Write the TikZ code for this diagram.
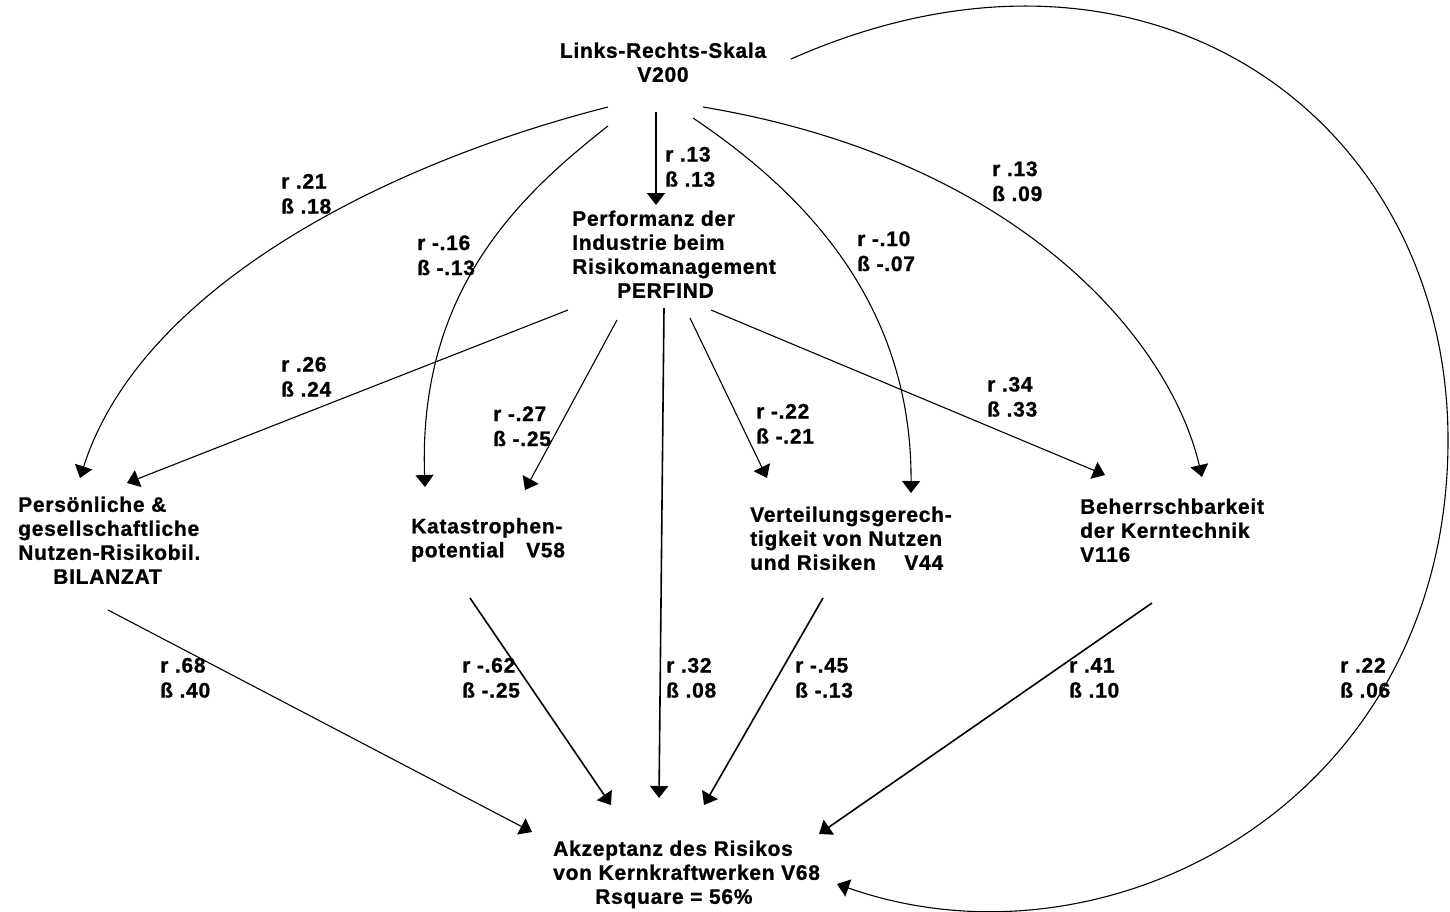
\documentclass[tikz,border=0pt]{standalone}
\usepackage{fontspec}
\setmainfont{Liberation Sans}[LetterSpace=3.5, BoldFeatures={FakeBold=1}]
\usetikzlibrary{arrows.meta}

\tikzset{
  vbox/.style={inner sep=0pt, font=\bfseries\fontsize{21}{24}\selectfont},
  coef/.style={inner sep=0pt, anchor=west, font=\bfseries\fontsize{21}{25}\selectfont},
  path/.style={line width=1.1pt, -{Triangle[length=12pt,width=18pt]}},
  heavy/.style={path, line width=1.6pt},
}
\newcommand{\rb}[2]{\begin{tabular}{@{}l@{}}#1\\#2\end{tabular}}

\begin{document}
\begin{tikzpicture}[x=1pt,y=-1pt]
\useasboundingbox (0,0) rectangle (1450,911);

% variables
\node[vbox] (v200) at (663,65) {\begin{tabular}{@{}c@{}}Links-Rechts-Skala\\V200\end{tabular}};
\node[vbox,anchor=west] (perf) at (572,257) {\begin{tabular}{@{}l@{}}Performanz der\\Industrie beim\\Risikomanagement\\\hspace{45pt}PERFIND\end{tabular}};
\node[vbox,anchor=west] (bil) at (18,543) {\begin{tabular}{@{}l@{}}Persönliche \&\\gesellschaftliche\\Nutzen-Risikobil.\\\hspace{35pt}BILANZAT\end{tabular}};
\node[vbox,anchor=west] (kat) at (411,540.5) {\begin{tabular}{@{}l@{}}Katastrophen-\\potential\hspace{15pt} V58\end{tabular}};
\node[vbox,anchor=west] (vert) at (750,541) {\begin{tabular}{@{}l@{}}Verteilungsgerech-\\tigkeit von Nutzen\\und Risiken\hspace{22pt} V44\end{tabular}};
\node[vbox,anchor=west] (beh) at (1080,533) {\begin{tabular}{@{}l@{}}Beherrschbarkeit\\der Kerntechnik\\V116\end{tabular}};
\node[vbox,anchor=west] (akz) at (553,875) {\begin{tabular}{@{}l@{}}Akzeptanz des Risikos\\von Kernkraftwerken V68\\\hspace{42pt}Rsquare = 56\%\end{tabular}};

% connector ends
\coordinate (v-p) at (656,112);   \coordinate (p-in) at (656,205);
\coordinate (v-b) at (608,107);   \coordinate (b-in1) at (80,478);
\coordinate (v-k) at (608,126);   \coordinate (k-in1) at (425,487);
\coordinate (v-ve) at (693,118);  \coordinate (ve-in1) at (911,493);
\coordinate (v-be) at (703,107);  \coordinate (be-in1) at (1202,477);
\coordinate (v-a) at (791,59);    \coordinate (a-in6) at (837,884);
\coordinate (p-b) at (568,310);   \coordinate (b-in2) at (127,483);
\coordinate (p-k) at (617,320);   \coordinate (k-in2) at (525,490);
\coordinate (p-a) at (664,308);   \coordinate (a-in3) at (659,798);
\coordinate (p-ve) at (690,318);  \coordinate (ve-in2) at (767,478);
\coordinate (p-be) at (711,310);  \coordinate (be-in2) at (1105,475);
\coordinate (b-a) at (108,610);   \coordinate (a-in1) at (532,832);
\coordinate (k-a) at (470,598);   \coordinate (a-in2) at (611,805);
\coordinate (ve-a) at (823,598);  \coordinate (a-in4) at (704,805);
\coordinate (be-a) at (1152,603); \coordinate (a-in5) at (819,834);

% paths from V200
\draw[path, line width=2pt] (v-p) -- (p-in);
\draw[path] (v-b) .. controls (380,165) and (140,290) .. (b-in1);
\draw[path] (v-k) .. controls (520,195) and (418,290) .. (k-in1);
\draw[path] (v-ve) .. controls (800,190) and (912,300) .. (ve-in1);
\draw[path] (v-be) .. controls (1020,160) and (1170,340) .. (be-in1);
\draw[path] (v-a) .. controls (1150,-100) and (1448,120) .. (1448,440)
               .. controls (1448,800) and (1110,980) .. (a-in6);

% paths from PERFIND
\draw[path] (p-b) -- (b-in2);
\draw[path] (p-k) -- (k-in2);
\draw[heavy] (p-a) -- (a-in3);
\draw[path] (p-ve) -- (ve-in2);
\draw[path] (p-be) -- (be-in2);

% paths into the acceptance variable
\draw[path] (b-a) -- (a-in1);
\draw[heavy] (k-a) -- (a-in2);
\draw[heavy] (ve-a) -- (a-in4);
\draw[heavy] (be-a) -- (a-in5);

% coefficients
\node[coef] (l1) at (665,169) {\rb{r .13}{ß .13}};
\node[coef] (l2) at (281,196) {\rb{r .21}{ß .18}};
\node[coef] (l3) at (417,257.5) {\rb{r -.16}{ß -.13}};
\node[coef] (l4) at (281,379) {\rb{r .26}{ß .24}};
\node[coef] (l5) at (857,253.5) {\rb{r -.10}{ß -.07}};
\node[coef] (l6) at (756,426) {\rb{r -.22}{ß -.21}};
\node[coef] (l7) at (992,183.5) {\rb{r .13}{ß .09}};
\node[coef] (l8) at (987,399) {\rb{r .34}{ß .33}};
\node[coef] (l9) at (493,428.5) {\rb{r -.27}{ß -.25}};
\node[coef] (l10) at (160,680) {\rb{r .68}{ß .40}};
\node[coef] (l11) at (462,680) {\rb{r -.62}{ß -.25}};
\node[coef] (l12) at (666,680) {\rb{r .32}{ß .08}};
\node[coef] (l13) at (795,680) {\rb{r -.45}{ß -.13}};
\node[coef] (l14) at (1069,680) {\rb{r .41}{ß .10}};
\node[coef] (l15) at (1340,680) {\rb{r .22}{ß .06}};
\end{tikzpicture}
\end{document}
